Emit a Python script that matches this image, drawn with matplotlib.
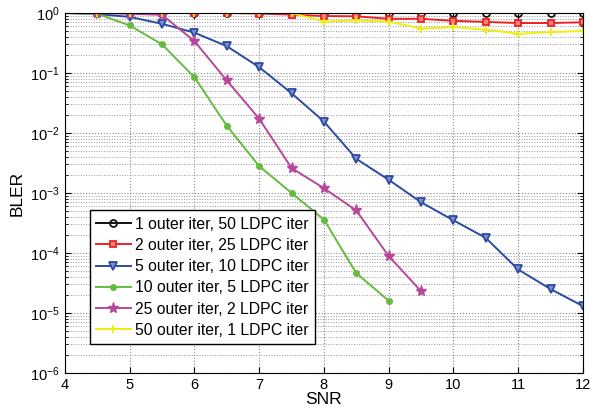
import numpy as np
import matplotlib
matplotlib.use("Agg")
import matplotlib.pyplot as plt
from matplotlib.ticker import LogLocator, NullFormatter

plt.rcParams['font.family'] = ['Liberation Sans', 'DejaVu Sans']

snr = [4, 4.5, 5, 5.5, 6, 6.5, 7, 7.5, 8, 8.5, 9, 9.5, 10, 10.5, 11, 11.5, 12]

bler_1x50 = [1, 1, 1, 1, 1, 1, 1, 1, 1, 1, 1, 1, 1, 1, 1, 1, 1]
bler_2x25 = [1, 1, 1, 1, 1, 1, 0.98, 0.94, 0.89, 0.88, 0.80, 0.80, 0.74, 0.71, 0.68, 0.68, 0.70]
bler_5x10 = [1, 0.96, 0.86, 0.66, 0.47, 0.28, 0.125, 0.046, 0.0155, 0.0037, 0.00166,
             7.0e-4, 3.5e-4, 1.78e-4, 5.3e-5, 2.5e-5, 1.3e-5]
snr_10x5 = [4, 4.5, 5, 5.5, 6, 6.5, 7, 7.5, 8, 8.5, 9]
bler_10x5 = [1, 0.97, 0.62, 0.30, 0.085, 0.0132, 0.0028, 0.001, 3.6e-4, 4.6e-5, 1.6e-5]
snr_25x2 = [4, 4.5, 5, 5.5, 6, 6.5, 7, 7.5, 8, 8.5, 9, 9.5]
bler_25x2 = [1, 1, 0.97, 0.93, 0.34, 0.075, 0.0173, 0.0026, 0.0012, 5.1e-4, 8.9e-5, 2.3e-5]
bler_50x1 = [1, 1, 1, 1, 1, 1, 1, 1, 0.72, 0.75, 0.72, 0.55, 0.58, 0.53, 0.45, 0.48, 0.50]

labels = ['1 outer iter, 50 LDPC iter', '2 outer iter, 25 LDPC iter',
          '5 outer iter, 10 LDPC iter', '10 outer iter, 5 LDPC iter',
          '25 outer iter, 2 LDPC iter', '50 outer iter, 1 LDPC iter']

fig = plt.figure(figsize=(5.9, 4.19), dpi=100)
ax = fig.add_axes([0.110, 0.110, 0.878, 0.859])

me = slice(1, None)  # no marker at snr=4
lw = 1.4
ax.semilogy(snr, bler_1x50, '-o', color='#111111', mfc='none', ms=5, mew=1.3, lw=lw, markevery=me, label=labels[0])
ax.semilogy(snr, bler_2x25, '-s', color='#ee2222', mfc='#f58080', ms=5, mew=1.3, lw=lw, markevery=me, label=labels[1])
ax.semilogy(snr, bler_5x10, '-v', color='#2b4ba3', mfc='#8090cc', ms=6, mew=1.3, lw=lw, markevery=me, label=labels[2])
ax.semilogy(snr_10x5, bler_10x5, '-o', color='#66bb3f', ms=4, lw=lw, markevery=me, label=labels[3])
ax.semilogy(snr_25x2, bler_25x2, '-*', color='#b7479b', ms=8, lw=lw, markevery=me, label=labels[4])
ax.semilogy(snr, bler_50x1, '-+', color='#eeee11', ms=6, mew=1.3, lw=lw, markevery=me, label=labels[5])

ax.set_xlim(4, 12)
ax.set_ylim(1e-6, 1)
ax.set_xticks(range(4, 13))
ax.yaxis.set_major_locator(LogLocator(base=10, numticks=10))
ax.yaxis.set_minor_locator(LogLocator(base=10, subs=np.arange(2, 10), numticks=100))
ax.yaxis.set_minor_formatter(NullFormatter())

ax.grid(True, which='major', linestyle=':', color='#888888', lw=0.8)
ax.grid(True, which='minor', axis='y', linestyle=':', color='#999999', lw=0.7)
ax.tick_params(which='both', direction='in', top=True, right=True, labelsize=10.5)
ax.tick_params(which='major', length=4)
ax.tick_params(which='minor', length=2)

ax.set_xlabel('SNR', fontsize=12.5, labelpad=0)
ax.set_ylabel('BLER', fontsize=12.5, labelpad=4)

leg = ax.legend(loc='lower left', bbox_to_anchor=(0.033, 0.058), fontsize=11.3,
                fancybox=False, framealpha=1, edgecolor='black', handlelength=2.2,
                handletextpad=0.3, labelspacing=0.4, borderpad=0.4)
leg.get_frame().set_linewidth(1.0)

plt.savefig('out.png', dpi=100)
plt.close()
